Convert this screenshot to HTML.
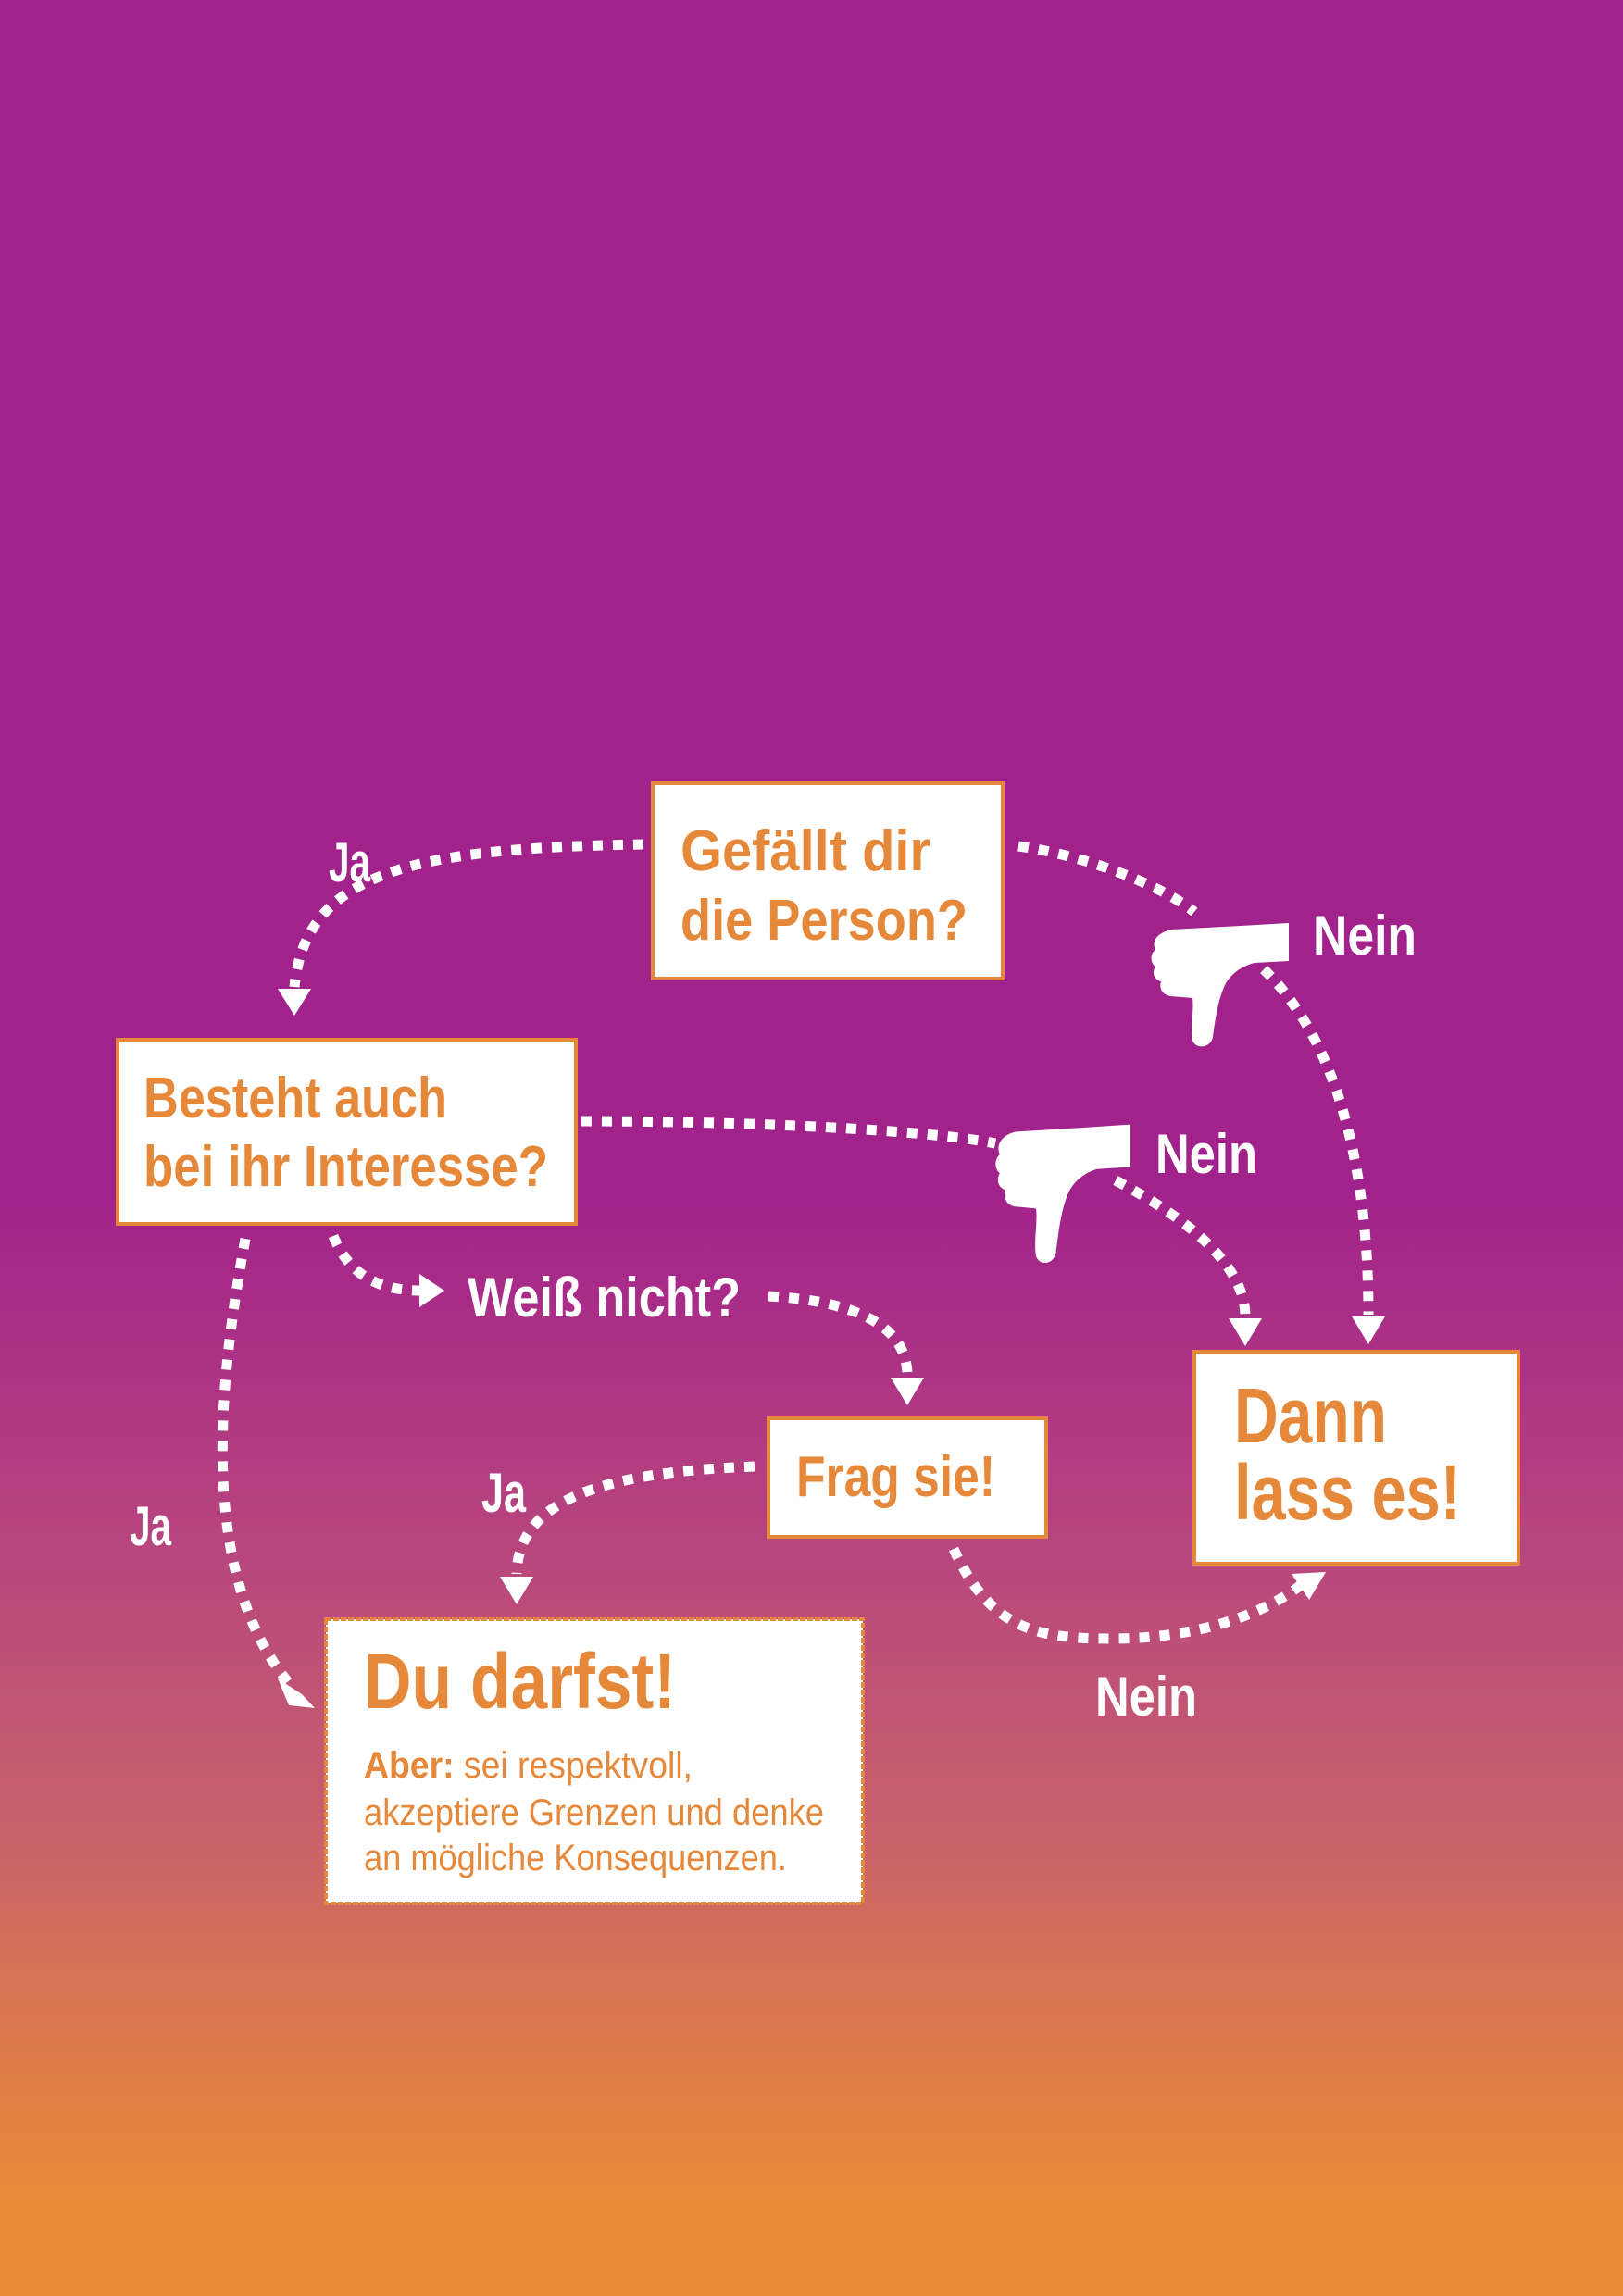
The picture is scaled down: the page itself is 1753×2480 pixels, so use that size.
<!DOCTYPE html>
<html><head><meta charset="utf-8"><style>
html,body{margin:0;padding:0;}
body{width:1753px;height:2480px;overflow:hidden;background:linear-gradient(to bottom,#a2218b 0%,#a2228b 52%,#b8477d 68%,#c9626a 80%,#dc7a4b 89%,#e88b37 96%,#e98c35 100%);}
svg{position:absolute;left:0;top:0;}
text{font-family:"Liberation Sans Narrow","Liberation Sans",sans-serif;font-weight:bold;}
</style></head><body>
<svg width="1753" height="2480" viewBox="0 0 1753 2480">
<defs>
<path id="thumb" d="M25 4 L100 0 L152 -3 L152 38 L115 40 C100 44 90 52 84 62 C76 78 73 98 70 120 C68 132 52 134 48 124 C45 110 50 92 48 78 L24 76 C14 74 12 66 14 60 C6 58 4 50 8 44 C2 40 2 30 8 26 C4 18 8 8 25 4 Z"/>
</defs>
<g fill="none" stroke="#fff" stroke-width="11" stroke-dasharray="11 11">
<path d="M695 912 C450 916 330 940 318 1066"/>
<path d="M1100 914 C1180 925 1260 960 1290 985"/>
<path d="M1365 1047 C1440 1120 1478 1250 1478 1420"/>
<path d="M628 1211 C800 1211 1000 1220 1075 1235"/>
<path d="M1205 1275 C1290 1320 1345 1370 1345 1422"/>
<path d="M265 1338 C235 1500 215 1700 312 1818"/>
<path d="M360 1335 C380 1385 420 1394 455 1394"/>
<path d="M830 1400 C920 1405 980 1430 980 1486"/>
<path d="M815 1584 C650 1590 560 1620 558 1700"/>
<path d="M1030 1673 C1070 1760 1120 1770 1200 1770 C1300 1770 1370 1740 1405 1712"/>
</g>
<g fill="#fff">
<polygon points="300,1068 336,1068 318,1097"/>
<polygon points="1460,1422 1496,1422 1478,1452"/>
<polygon points="1327,1424 1363,1424 1345,1454"/>
<polygon points="300,1813 326,1830 340,1845 312,1842"/>
<polygon points="453,1376 453,1412 480,1394"/>
<polygon points="962,1488 998,1488 980,1518"/>
<polygon points="540,1703 576,1703 558,1733"/>
<polygon points="1395,1700 1414,1728 1432,1698"/>
<use href="#thumb" transform="translate(1240,1000)"/>
<use href="#thumb" transform="translate(1072,1218) scale(0.98,1.12)"/>
</g>
<g fill="#fff" stroke="#e5883a" stroke-width="4">
<rect x="705" y="846" width="378" height="211"/>
<rect x="127" y="1123" width="495" height="199"/>
<rect x="830" y="1532" width="300" height="128"/>
<rect x="1290" y="1460" width="350" height="229"/>
<rect x="352" y="1749" width="580" height="307" stroke-dasharray="6 2"/>
</g>
<g fill="#e5883a">
<text x="735" y="940" font-size="62" textLength="270" lengthAdjust="spacingAndGlyphs">Gefällt dir</text>
<text x="735" y="1015" font-size="62" textLength="310" lengthAdjust="spacingAndGlyphs">die Person?</text>
<text x="155" y="1207" font-size="62" textLength="328" lengthAdjust="spacingAndGlyphs">Besteht auch</text>
<text x="155" y="1281" font-size="62" textLength="437" lengthAdjust="spacingAndGlyphs">bei ihr Interesse?</text>
<text x="860" y="1616" font-size="62" textLength="215" lengthAdjust="spacingAndGlyphs">Frag sie!</text>
<text x="1333" y="1558" font-size="84" textLength="165" lengthAdjust="spacingAndGlyphs">Dann</text>
<text x="1333" y="1641" font-size="84" textLength="245" lengthAdjust="spacingAndGlyphs">lass es!</text>
<text x="393" y="1845" font-size="84" textLength="337" lengthAdjust="spacingAndGlyphs">Du darfst!</text>
<text x="393" y="1920" font-size="40" textLength="355" lengthAdjust="spacingAndGlyphs"><tspan font-weight="bold">Aber:</tspan><tspan style="font-weight:normal"> sei respektvoll,</tspan></text>
<text x="393" y="1971" font-size="40" style="font-weight:normal" textLength="497" lengthAdjust="spacingAndGlyphs">akzeptiere Grenzen und denke</text>
<text x="393" y="2020" font-size="40" style="font-weight:normal" textLength="457" lengthAdjust="spacingAndGlyphs">an mögliche Konsequenzen.</text>
</g>
<g fill="#fff" font-size="60">
<text x="355" y="952" textLength="45" lengthAdjust="spacingAndGlyphs">Ja</text>
<text x="1418" y="1031" textLength="112" lengthAdjust="spacingAndGlyphs">Nein</text>
<text x="1248" y="1267" textLength="110" lengthAdjust="spacingAndGlyphs">Nein</text>
<text x="505" y="1422" textLength="295" lengthAdjust="spacingAndGlyphs">Weiß nicht?</text>
<text x="140" y="1669" textLength="45" lengthAdjust="spacingAndGlyphs">Ja</text>
<text x="520" y="1633" textLength="48" lengthAdjust="spacingAndGlyphs">Ja</text>
<text x="1183" y="1853" textLength="110" lengthAdjust="spacingAndGlyphs">Nein</text>
</g>
</svg>
</body></html>
